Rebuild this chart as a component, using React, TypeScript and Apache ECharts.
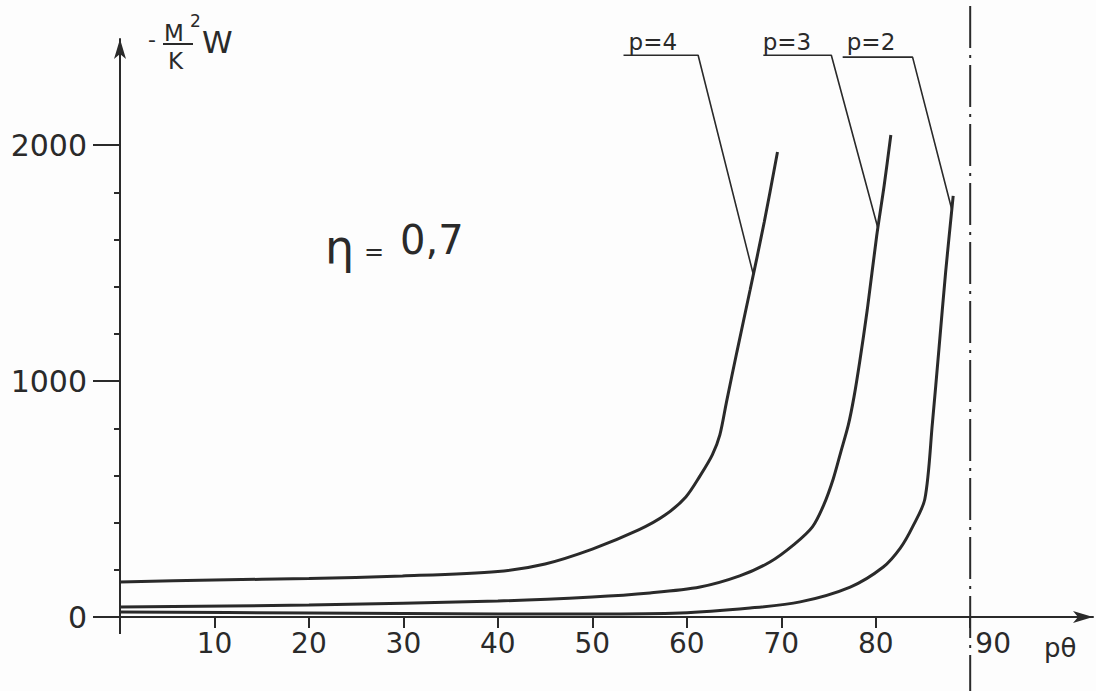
import React, { useEffect, useRef } from "react";
import * as echarts from "echarts";

// ---- axis ticks / labels ----
const xTicks = [10, 20, 30, 40, 50, 60, 70, 80, 90];
const yMajorTicks = [0, 1000, 2000];
const yMinorTicks = [200, 400, 600, 800, 1200, 1400, 1600, 1800];
const xMin = 0;
const xMax = 103;
const yMin = 0;
const yMax = 2450;

// ---- curves (pθ, -M²W/K) ----
const p4X = [0, 9.95, 20, 29.9, 40, 45, 50, 54.9, 57.7, 59.9, 61.4, 62.7, 63.5, 64.2, 65.3, 66.7, 68.2, 69.6];
const p4Y = [148, 157, 163, 174, 193, 225, 288, 369, 432, 509, 598, 687, 772, 911, 1123, 1386, 1674, 1971];

const p3X = [0, 20, 40, 50, 56.1, 61.4, 65.6, 68.8, 71.4, 73.3, 74.5, 75.5, 76.3, 77.1, 77.7, 78.3, 79.1, 80.1, 80.9, 81.6];
const p3Y = [42, 51, 68, 85, 102, 127, 174, 233, 309, 382, 475, 585, 699, 814, 933, 1081, 1301, 1615, 1831, 2043];

const p2X = [0, 20, 40, 50, 59.3, 66.7, 72.0, 77.3, 80.8, 82.6, 83.9, 85.2, 86.0, 86.7, 87.4, 88.2];
const p2Y = [21, 17, 13, 13, 17, 38, 64, 127, 212, 292, 382, 500, 822, 1140, 1462, 1785];

// ---- leader lines for the curve labels ----
const leader4X = [53.3, 61.2, 67.06];
const leader4Y = [2381, 2381, 1449];
const leader3X = [68.1, 75.3, 80.2];
const leader3Y = [2381, 2381, 1653];
const leader2X = [76.5, 83.9, 88.1];
const leader2Y = [2373, 2373, 1720];

const labelNames = ["p=4", "p=3", "p=2"];
const labelX = [56.4, 70.6, 79.5];
const labelY = [2436, 2436, 2436];

const refLineX = 90;

const INK = "#2a2a2a";
const FONT = "DejaVu Sans";

const zip = (xs: number[], ys: number[]) => xs.map((x, i) => [x, ys[i]]);

export default function App() {
  const ref = useRef<HTMLDivElement>(null);

  useEffect(() => {
    if (!ref.current) return;
    const chart = echarts.init(ref.current, null, { renderer: "svg" });

    const curve = (name: string, xs: number[], ys: number[]) => ({
      name,
      type: "line",
      data: zip(xs, ys),
      smooth: 0.3,
      showSymbol: false,
      symbol: "none",
      lineStyle: { color: INK, width: 3 },
      z: 3,
    });
    const leader = (name: string, xs: number[], ys: number[]) => ({
      name,
      type: "line",
      data: zip(xs, ys),
      showSymbol: false,
      symbol: "none",
      lineStyle: { color: INK, width: 1.6 },
      z: 2,
    });

    chart.setOption({
      animation: false,
      backgroundColor: "#fdfdfd",
      grid: { left: 120, right: 3, top: 39, bottom: 74, containLabel: false },
      xAxis: {
        type: "value",
        min: xMin,
        max: xMax,
        axisLine: {
          show: true,
          lineStyle: { color: INK, width: 2 },
          symbol: ["none", "arrow"],
          symbolSize: [9, 20],
        },
        axisTick: {
          show: true,
          customValues: xTicks,
          length: 11,
          lineStyle: { color: INK, width: 2 },
        },
        axisLabel: {
          customValues: xTicks,
          margin: 12,
          color: INK,
          fontFamily: FONT,
          fontSize: 28,
          formatter: (v: number) => (v === 90 ? "{r|" + v + "}" : String(v)),
          rich: {
            r: { fontFamily: FONT, fontSize: 28, color: INK, padding: [0, 0, 0, 46] },
          },
        },
        splitLine: { show: false },
      },
      yAxis: [
        {
          type: "value",
          min: yMin,
          max: yMax,
          axisLine: {
            show: true,
            lineStyle: { color: INK, width: 2 },
            symbol: ["none", "arrow"],
            symbolSize: [9, 20],
          },
          axisTick: {
            show: true,
            customValues: yMajorTicks,
            length: 27,
            lineStyle: { color: INK, width: 2 },
          },
          axisLabel: {
            customValues: yMajorTicks,
            margin: 33,
            color: INK,
            fontFamily: FONT,
            fontSize: 30,
            formatter: (v: number) => String(v),
          },
          splitLine: { show: false },
        },
        {
          type: "value",
          min: yMin,
          max: yMax,
          position: "left",
          axisLine: { show: false },
          axisTick: {
            show: true,
            customValues: yMinorTicks,
            length: 6,
            lineStyle: { color: INK, width: 2 },
          },
          axisLabel: { show: false },
          splitLine: { show: false },
        },
      ],
      series: [
        curve("p=4", p4X, p4Y),
        curve("p=3", p3X, p3Y),
        curve("p=2", p2X, p2Y),
        leader("leader p=4", leader4X, leader4Y),
        leader("leader p=3", leader3X, leader3Y),
        leader("leader p=2", leader2X, leader2Y),
      ],
    });

    const toPx = (x: number, y: number) =>
      chart.convertToPixel({ gridIndex: 0 }, [x, y]) as number[];

    const origin = toPx(0, 0);
    const ref90 = toPx(refLineX, 0);

    const graphic: any[] = [];
    // dash-dot reference line at pθ = 90
    graphic.push({
      type: "line",
      shape: { x1: ref90[0], y1: 6, x2: ref90[0], y2: 691 },
      style: { stroke: INK, lineWidth: 2, lineDash: [42, 7, 3, 7] },
      z: 5,
    });
    // small extension of the vertical axis below the horizontal axis
    graphic.push({
      type: "line",
      shape: { x1: origin[0], y1: origin[1], x2: origin[0], y2: origin[1] + 17 },
      style: { stroke: INK, lineWidth: 2 },
    });
    // curve labels
    labelNames.forEach((n, i) => {
      const p = toPx(labelX[i], labelY[i]);
      graphic.push({
        type: "text",
        x: p[0],
        y: p[1],
        style: {
          text: n,
          fontFamily: FONT,
          fontSize: 23,
          fill: INK,
          align: "center",
          verticalAlign: "middle",
        },
      });
    });
    // y axis name: -M²/K W
    graphic.push(
      { type: "text", x: 148, y: 28, style: { text: "-", fontFamily: FONT, fontSize: 22, fill: INK } },
      { type: "text", x: 164, y: 21, style: { text: "M", fontFamily: FONT, fontSize: 23, fill: INK } },
      { type: "text", x: 190, y: 12, style: { text: "2", fontFamily: FONT, fontSize: 17, fill: INK } },
      {
        type: "line",
        shape: { x1: 163, y1: 44, x2: 193, y2: 44 },
        style: { stroke: INK, lineWidth: 2 },
      },
      { type: "text", x: 168, y: 49, style: { text: "K", fontFamily: FONT, fontSize: 23, fill: INK } },
      { type: "text", x: 202, y: 26, style: { text: "W", fontFamily: FONT, fontSize: 31, fill: INK } }
    );
    // x axis name
    graphic.push({
      type: "text",
      x: 1044,
      y: 635,
      style: { text: "pθ", fontFamily: FONT, fontSize: 26, fill: INK },
    });
    // η = 0,7
    graphic.push(
      { type: "text", x: 325, y: 224, style: { text: "η", fontFamily: FONT, fontSize: 46, fill: INK } },
      { type: "text", x: 364, y: 240, style: { text: "=", fontFamily: FONT, fontSize: 24, fill: INK } },
      { type: "text", x: 400, y: 220, style: { text: "0,7", fontFamily: FONT, fontSize: 40, fill: INK } }
    );

    chart.setOption({ graphic });

    return () => chart.dispose();
  }, []);

  return (
    <div
      ref={ref}
      style={{ position: "absolute", left: 0, top: 0, width: 1096, height: 691 }}
    />
  );
}
